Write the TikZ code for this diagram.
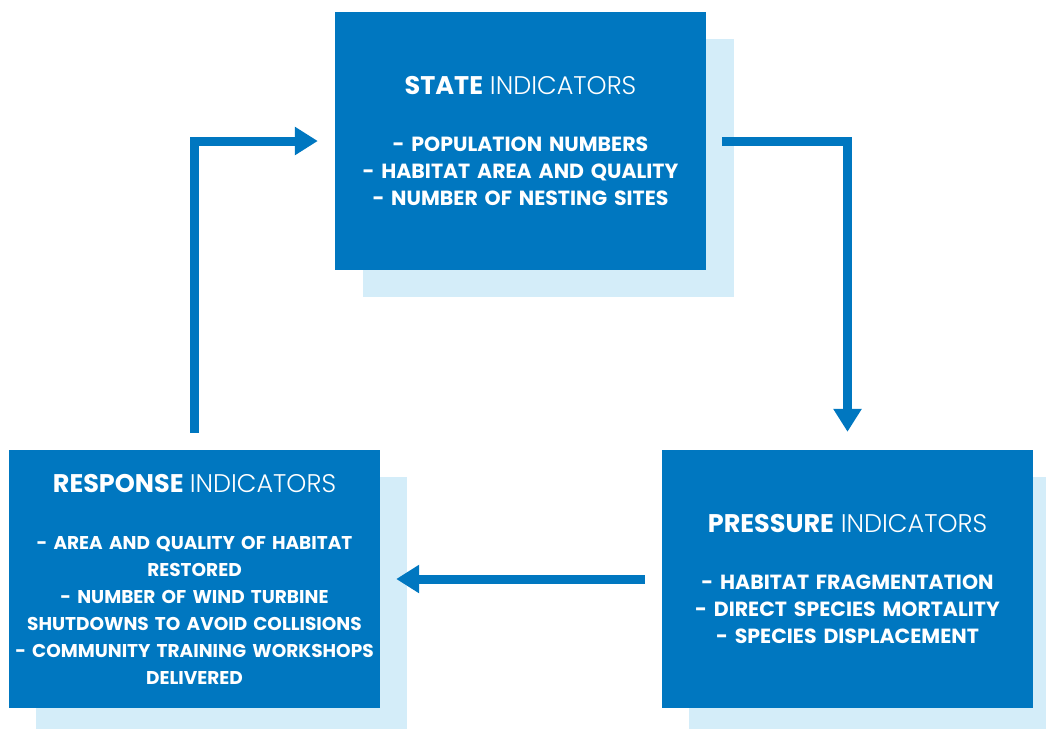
\documentclass[tikz,border=0pt]{standalone}
\usepackage{fontspec}
\setmainfont{Poppins}
\newfontfamily\lightfont{Poppins Light}
\usetikzlibrary{arrows.meta}
\definecolor{dblue}{HTML}{0077C0}
\definecolor{lblue}{HTML}{D4EDF9}
\tikzset{
  box/.style={fill=dblue, text=white, minimum width=371pt, minimum height=258pt,
    text width=371pt, inner sep=0pt, align=center, font=\fontsize{20.5}{27}\selectfont\bfseries},
  smallbox/.style={box, font=\fontsize{18.5}{27}\selectfont\bfseries},
  shadowbox/.style={fill=lblue, draw=none},
  arr/.style={draw=dblue, line width=9pt, -{Triangle[length=23pt,width=27pt]}},
}
\newcommand{\heading}[1]{{\fontsize{25.5}{27}\selectfont\textbf{#1} {\lightfont\mdseries INDICATORS}}}
\begin{document}
\begin{tikzpicture}[x=1pt,y=-1pt]
\useasboundingbox (0,0) rectangle (1046,729);
% shadows
\fill[shadowbox] (363,39) rectangle (734,297);
\fill[shadowbox] (36,477) rectangle (407,729);
\fill[shadowbox] (689,477) rectangle (1046,729);
% boxes
\node[box] (state) at (520.5,141) {\heading{STATE}\\[30pt]
- POPULATION NUMBERS\\
- HABITAT AREA AND QUALITY\\
- NUMBER OF NESTING SITES};
\node[smallbox] (response) at (194.5,579) {\heading{RESPONSE}\\[30pt]
- AREA AND QUALITY OF HABITAT\\
RESTORED\\
- NUMBER OF WIND TURBINE\\
SHUTDOWNS TO AVOID COLLISIONS\\
- COMMUNITY TRAINING WORKSHOPS\\
DELIVERED};
\node[box] (pressure) at (847.5,579) {\heading{PRESSURE}\\[30pt]
- HABITAT FRAGMENTATION\\
- DIRECT SPECIES MORTALITY\\
- SPECIES DISPLACEMENT};
% connectors
\draw[arr] ([yshift=17pt]response.north) |- ([xshift=-17pt]state.west);
\draw[arr] ([xshift=16pt]state.east) -| ([yshift=18pt]pressure.north);
\draw[arr] ([xshift=-17pt]pressure.west) -- ([xshift=16pt]response.east);
\end{tikzpicture}
\end{document}
